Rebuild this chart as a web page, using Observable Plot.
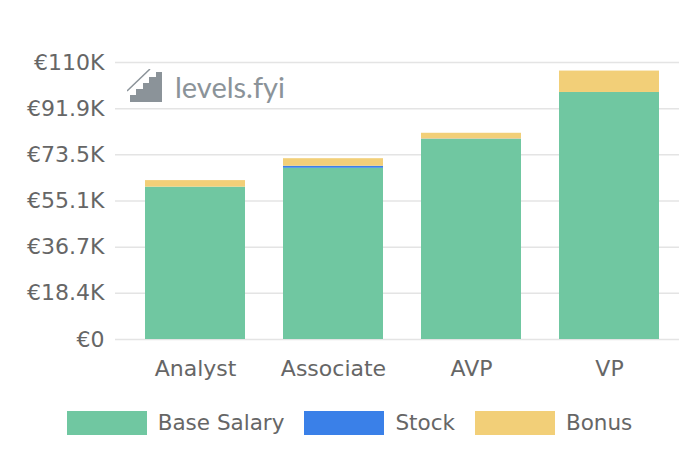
<!DOCTYPE html>
<html><head><meta charset="utf-8">
<script src="https://cdn.jsdelivr.net/npm/d3@7"></script>
<script src="https://cdn.jsdelivr.net/npm/@observablehq/plot@0.6"></script>
<style>
body{margin:0;background:#fff;font-family:"DejaVu Sans",sans-serif;}
#wrap{position:relative;width:699px;height:467px;}
#logo{position:absolute;left:127px;top:69px;display:flex;align-items:flex-end;gap:12px;color:#8b9399;font-family:Lato,sans-serif;font-size:29px;line-height:29px;}
#legend{position:absolute;left:0;top:410px;width:699px;display:flex;justify-content:center;gap:20px;font-size:21.5px;color:#666;}
.item{display:flex;align-items:center;gap:11px;}
.sw{width:80px;height:24px;}
</style></head><body><div id="wrap"></div>
<script>
const levels = ["Analyst", "Associate", "AVP", "VP"];
const baseSalary = [60.5, 68.0, 79.5, 98.1];
const stock = [0, 0.8, 0.1, 0];
const bonus = [2.6, 3.0, 2.3, 8.5];
const components = ["Base Salary", "Stock", "Bonus"];
const colors = ["#70c7a1", "#3a80e8", "#f2cf78"];
const yTickLabels = ["€0", "€18.4K", "€36.7K", "€55.1K", "€73.5K", "€91.9K", "€110K"];
const yMax = 110;

const series = [baseSalary, stock, bonus];
const rows = [];
levels.forEach((lv, i) => components.forEach((c, j) => rows.push({level: lv, component: c, value: series[j][i]})));
const yTicks = yTickLabels.map((_, i) => i * yMax / (yTickLabels.length - 1));

const chart = Plot.plot({
  width: 699, height: 390,
  marginTop: 62, marginBottom: 51, marginLeft: 115, marginRight: 20,
  style: {color: "#666", fontFamily: "'DejaVu Sans', sans-serif", background: "#fff"},
  x: {domain: levels, paddingInner: 0.278, paddingOuter: 0.139, insetLeft: 10, label: null},
  y: {domain: [0, yMax], label: null},
  color: {domain: components, range: colors},
  marks: [
    Plot.ruleY(yTicks, {stroke: "#e4e4e4", strokeWidth: 1.5}),
    Plot.barY(rows, Plot.stackY({x: "level", y: "value", fill: "component", order: components})),
    Plot.axisY({ticks: yTicks, tickFormat: (d, i) => yTickLabels[i], tickSize: 0, tickPadding: 11, fontSize: 22, label: null}),
    Plot.axisX({tickSize: 0, tickPadding: 21, fontSize: 22, label: null})
  ]
});
const wrap = document.getElementById("wrap");
wrap.appendChild(chart);

const logo = document.createElement("div");
logo.id = "logo";
logo.innerHTML = `<svg width="36" height="33" viewBox="0 0 36 33"><polygon points="3,33 3,26 9,26 9,20 16,20 16,14 22,14 22,8 29,8 29,3 35,3 35,33" fill="#8b9399"/><line x1="0" y1="22" x2="23" y2="0" stroke="#8b9399" stroke-width="1.5"/></svg><span style="margin-bottom:1px">levels.fyi</span>`;
wrap.appendChild(logo);

const legend = document.createElement("div");
legend.id = "legend";
components.forEach((c, j) => {
  const it = document.createElement("div");
  it.className = "item";
  it.innerHTML = `<div class="sw" style="background:${colors[j]}"></div><span>${c}</span>`;
  legend.appendChild(it);
});
wrap.appendChild(legend);
</script></body></html>
